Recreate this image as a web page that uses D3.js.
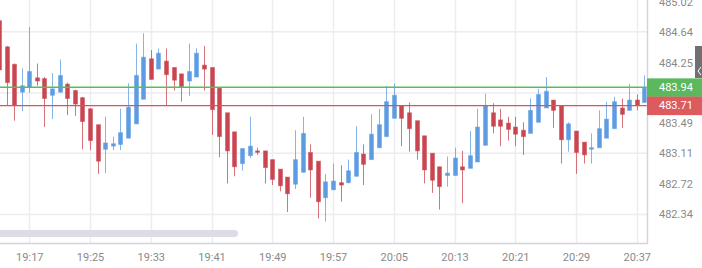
<!DOCTYPE html>
<html>
<head>
<meta charset="utf-8">
<script src="https://cdn.jsdelivr.net/npm/d3@7"></script>
<style>
	body { margin: 0; background: #fff; }
	#chart-area { width: 702px; height: 268px; }
	.axis text { font-family: Roboto, "Open Sans", sans-serif; font-size: 11px; fill: #8a8a8a; }
	.axis path, .axis line { display: none; }
</style>
</head>
<body>
<div id="chart-area"></div>
<script>
// one candle per minute, starting at this time
const startTime = "19:13";

const opens = [484.78, 484.45, 484.23, 483.88, 483.94, 484.06, 484.05, 483.84, 483.88, 483.98,
	483.90, 483.81, 483.67, 483.47, 483.16, 483.20, 483.22, 483.30, 483.48, 483.79,
	484.30, 484.17, 484.27, 484.19, 484.11, 484.02, 484.07, 484.22, 484.19, 483.93,
	483.62, 483.38, 482.98, 483.08, 483.14, 483.14, 483.03, 482.91, 482.81, 482.72,
	482.87, 483.12, 483.01, 482.55, 482.65, 482.74, 482.74, 482.82, 483.10, 483.03,
	483.18, 483.32, 483.55, 483.71, 483.62, 483.52, 483.33, 483.11, 482.94, 482.83,
	482.83, 482.94, 482.92, 483.00, 483.21, 483.62, 483.53, 483.49, 483.44, 483.40,
	483.36, 483.50, 483.68, 483.78, 483.71, 483.28, 483.39, 483.25, 483.17, 483.18,
	483.30, 483.42, 483.68, 483.65, 483.78, 483.75];

const highs = [484.82, 484.46, 484.24, 484.18, 484.70, 484.24, 484.07, 484.12, 484.29, 484.00,
	483.91, 483.82, 483.68, 483.47, 483.57, 483.32, 483.67, 483.99, 484.49, 484.62,
	484.41, 484.43, 484.43, 484.19, 484.11, 484.49, 484.43, 484.46, 484.19, 483.93,
	483.62, 483.38, 483.17, 483.57, 483.18, 483.14, 483.03, 482.91, 482.81, 483.40,
	483.57, 483.22, 483.01, 482.85, 482.98, 482.96, 483.03, 483.45, 483.22, 483.60,
	483.67, 483.96, 483.99, 483.71, 483.75, 483.52, 483.33, 483.11, 482.94, 483.07,
	483.18, 483.14, 483.39, 483.67, 483.86, 483.74, 483.67, 483.57, 483.57, 483.50,
	483.80, 483.92, 484.07, 483.78, 483.71, 483.50, 483.39, 483.25, 483.36, 483.65,
	483.76, 483.82, 483.80, 483.98, 483.85, 484.09];

const lows = [484.11, 483.71, 483.52, 483.64, 483.87, 483.96, 483.44, 483.54, 483.87, 483.59,
	483.58, 483.16, 483.15, 482.85, 482.86, 483.15, 483.15, 483.30, 483.48, 483.79,
	484.04, 484.17, 483.71, 483.90, 483.76, 483.83, 484.07, 483.90, 483.34, 483.06,
	482.73, 482.82, 482.89, 483.05, 483.09, 482.73, 482.71, 482.63, 482.37, 482.66,
	482.87, 482.55, 482.29, 482.25, 482.65, 482.50, 482.73, 482.82, 482.71, 483.03,
	483.18, 483.32, 483.55, 483.20, 483.13, 483.03, 482.73, 482.61, 482.40, 482.69,
	482.83, 482.48, 482.92, 483.00, 483.21, 483.36, 483.20, 483.27, 483.20, 483.09,
	483.36, 483.50, 483.68, 483.43, 482.98, 483.13, 482.85, 482.98, 482.98, 483.18,
	483.30, 483.42, 483.43, 483.65, 483.65, 483.75];

const closes = [484.16, 484.00, 483.71, 483.96, 484.14, 484.02, 483.80, 483.92, 484.09, 483.80,
	483.73, 483.51, 483.27, 483.01, 483.24, 483.23, 483.37, 483.69, 484.09, 484.32,
	484.04, 484.37, 484.10, 484.03, 483.95, 484.14, 484.37, 484.17, 483.66, 483.32,
	483.14, 482.94, 483.17, 483.20, 483.13, 482.93, 482.78, 482.70, 482.60, 483.03,
	483.36, 482.90, 482.50, 482.75, 482.76, 482.71, 482.89, 483.12, 482.97, 483.35,
	483.47, 483.76, 483.84, 483.55, 483.42, 483.14, 482.90, 482.77, 482.69, 482.86,
	483.05, 482.90, 483.08, 483.44, 483.71, 483.45, 483.45, 483.41, 483.35, 483.32,
	483.65, 483.85, 483.89, 483.65, 483.28, 483.48, 483.12, 483.09, 483.18, 483.42,
	483.54, 483.76, 483.60, 483.78, 483.71, 483.93];

// axis ticks (483.87 sits under the price boxes, so only its gridline shows)
const timeTicks = ["19:17", "19:25", "19:33", "19:41", "19:49", "19:57", "20:05", "20:13", "20:21", "20:29", "20:37"];
const priceTicks = [485.02, 484.64, 484.25, 483.49, 483.11, 482.72, 482.34];
const gridPrices = [484.64, 483.87, 483.11, 482.34];

// price markers on the right axis
const askPrice = 483.94;
const bidPrice = 483.71;

const parseTime = d3.timeParse("%H:%M");

class CandleChart {
	constructor(parentElement) {
		this.parentElement = parentElement;
		this.initVis();
	}

	initVis() {
		let vis = this;

		vis.totalWidth = 702;
		vis.totalHeight = 268;
		vis.width = 647;
		vis.height = 243;

		vis.svg = d3.select("#" + vis.parentElement).append("svg")
			.attr("width", vis.totalWidth)
			.attr("height", vis.totalHeight);

		vis.svg.append("clipPath")
			.attr("id", "plot-clip")
			.append("rect")
			.attr("width", vis.width)
			.attr("height", vis.height);

		// scales
		vis.x = d3.scaleTime()
			.domain([parseTime("19:17"), parseTime("20:37")])
			.range([29.3, 636.8]);
		vis.y = d3.scaleLinear()
			.domain([481.98, 485.04])
			.range([vis.height, 0]);

		vis.wrangleData();
	}

	wrangleData() {
		let vis = this;
		let t0 = parseTime(startTime);

		vis.displayData = opens.map((o, i) => ({
			time: d3.timeMinute.offset(t0, i),
			open: o,
			high: highs[i],
			low: lows[i],
			close: closes[i]
		}));

		vis.updateVis();
	}

	updateVis() {
		let vis = this;
		const red = "#c9454f", blue = "#5e9ce2";

		// gridlines
		let grid = vis.svg.append("g").attr("class", "grid");
		grid.selectAll(".vgrid")
			.data(timeTicks)
			.enter().append("line")
			.attr("x1", d => Math.round(vis.x(parseTime(d))) + 0.5)
			.attr("x2", d => Math.round(vis.x(parseTime(d))) + 0.5)
			.attr("y1", 0)
			.attr("y2", vis.height)
			.attr("stroke", "#ececf1")
			.attr("stroke-width", 1.5);
		grid.selectAll(".hgrid")
			.data(gridPrices)
			.enter().append("line")
			.attr("x1", 0)
			.attr("x2", vis.width)
			.attr("y1", d => vis.y(d))
			.attr("y2", d => vis.y(d))
			.attr("stroke", "#ececf1")
			.attr("stroke-width", 1.5);

		// candles
		let plot = vis.svg.append("g").attr("clip-path", "url(#plot-clip)");
		let candles = plot.selectAll(".candle")
			.data(vis.displayData)
			.enter().append("g")
			.attr("class", "candle");

		candles.append("line")
			.attr("x1", d => Math.round(vis.x(d.time)) + 0.5)
			.attr("x2", d => Math.round(vis.x(d.time)) + 0.5)
			.attr("y1", d => vis.y(d.high))
			.attr("y2", d => vis.y(d.low))
			.attr("stroke", d => d.close >= d.open ? blue : red)
			.attr("stroke-opacity", 0.75)
			.attr("stroke-width", 1);

		candles.append("rect")
			.attr("x", d => Math.round(vis.x(d.time)) - 1.5)
			.attr("width", 4)
			.attr("y", d => vis.y(Math.max(d.open, d.close)))
			.attr("height", d => Math.max(1.5, Math.abs(vis.y(d.open) - vis.y(d.close))))
			.attr("fill", d => d.close >= d.open ? blue : red)
			.attr("stroke", d => d.close >= d.open ? blue : red)
			.attr("stroke-opacity", 0.45)
			.attr("stroke-width", 1);

		// bid / ask lines
		plot.append("line")
			.attr("x1", 0).attr("x2", vis.width)
			.attr("y1", vis.y(askPrice)).attr("y2", vis.y(askPrice))
			.attr("stroke", "#56be56")
			.attr("stroke-width", 1.5);
		plot.append("line")
			.attr("x1", 0).attr("x2", vis.width)
			.attr("y1", vis.y(bidPrice)).attr("y2", vis.y(bidPrice))
			.attr("stroke", "#d9535a")
			.attr("stroke-width", 1.4);

		// scrollbar
		vis.svg.append("rect")
			.attr("x", -6)
			.attr("y", 230)
			.attr("width", 244)
			.attr("height", 7)
			.attr("rx", 3.5)
			.attr("fill", "#dcdce4");

		// axis frame lines
		vis.svg.append("line")
			.attr("x1", 0).attr("x2", vis.width + 1)
			.attr("y1", vis.height + 0.5).attr("y2", vis.height + 0.5)
			.attr("stroke", "#d4d4dc")
			.attr("stroke-width", 1.5);
		vis.svg.append("line")
			.attr("x1", vis.width + 0.5).attr("x2", vis.width + 0.5)
			.attr("y1", 0).attr("y2", vis.height)
			.attr("stroke", "#d4d4dc")
			.attr("stroke-width", 1.5);

		// axes
		vis.svg.append("g")
			.attr("class", "x-axis axis")
			.attr("transform", "translate(0," + vis.height + ")")
			.call(d3.axisBottom(vis.x)
				.tickValues(timeTicks.map(parseTime))
				.tickFormat(d3.timeFormat("%H:%M"))
				.tickSize(0)
				.tickPadding(10));

		vis.svg.append("g")
			.attr("class", "y-axis axis")
			.attr("transform", "translate(" + vis.width + ",0)")
			.call(d3.axisRight(vis.y)
				.tickValues(priceTicks)
				.tickFormat(d3.format(".2f"))
				.tickSize(0)
				.tickPadding(12));

		// price boxes on the axis
		let boxes = [{v: askPrice, c: "#5cb85c"}, {v: bidPrice, c: "#dd5a5f"}];
		boxes.forEach(function (b) {
			vis.svg.append("rect")
				.attr("x", vis.width)
				.attr("y", vis.y(b.v) - 9)
				.attr("width", vis.totalWidth - vis.width)
				.attr("height", 18.5)
				.attr("fill", b.c);
			vis.svg.append("text")
				.attr("x", vis.width + 12)
				.attr("y", vis.y(b.v))
				.attr("dy", "0.35em")
				.style("font-family", "Roboto, sans-serif")
				.style("font-size", "11px")
				.attr("fill", "#fff")
				.text(d3.format(".2f")(b.v));
		});

		// collapse tab at the right edge
		vis.svg.append("rect")
			.attr("x", 695)
			.attr("y", 46)
			.attr("width", 8)
			.attr("height", 32)
			.attr("fill", "#707070");
		vis.svg.append("path")
			.attr("d", "M701,67 L698,71 L701,75")
			.attr("fill", "none")
			.attr("stroke", "#fff")
			.attr("stroke-width", 1);
	}
}

new CandleChart("chart-area");
</script>
</body>
</html>
